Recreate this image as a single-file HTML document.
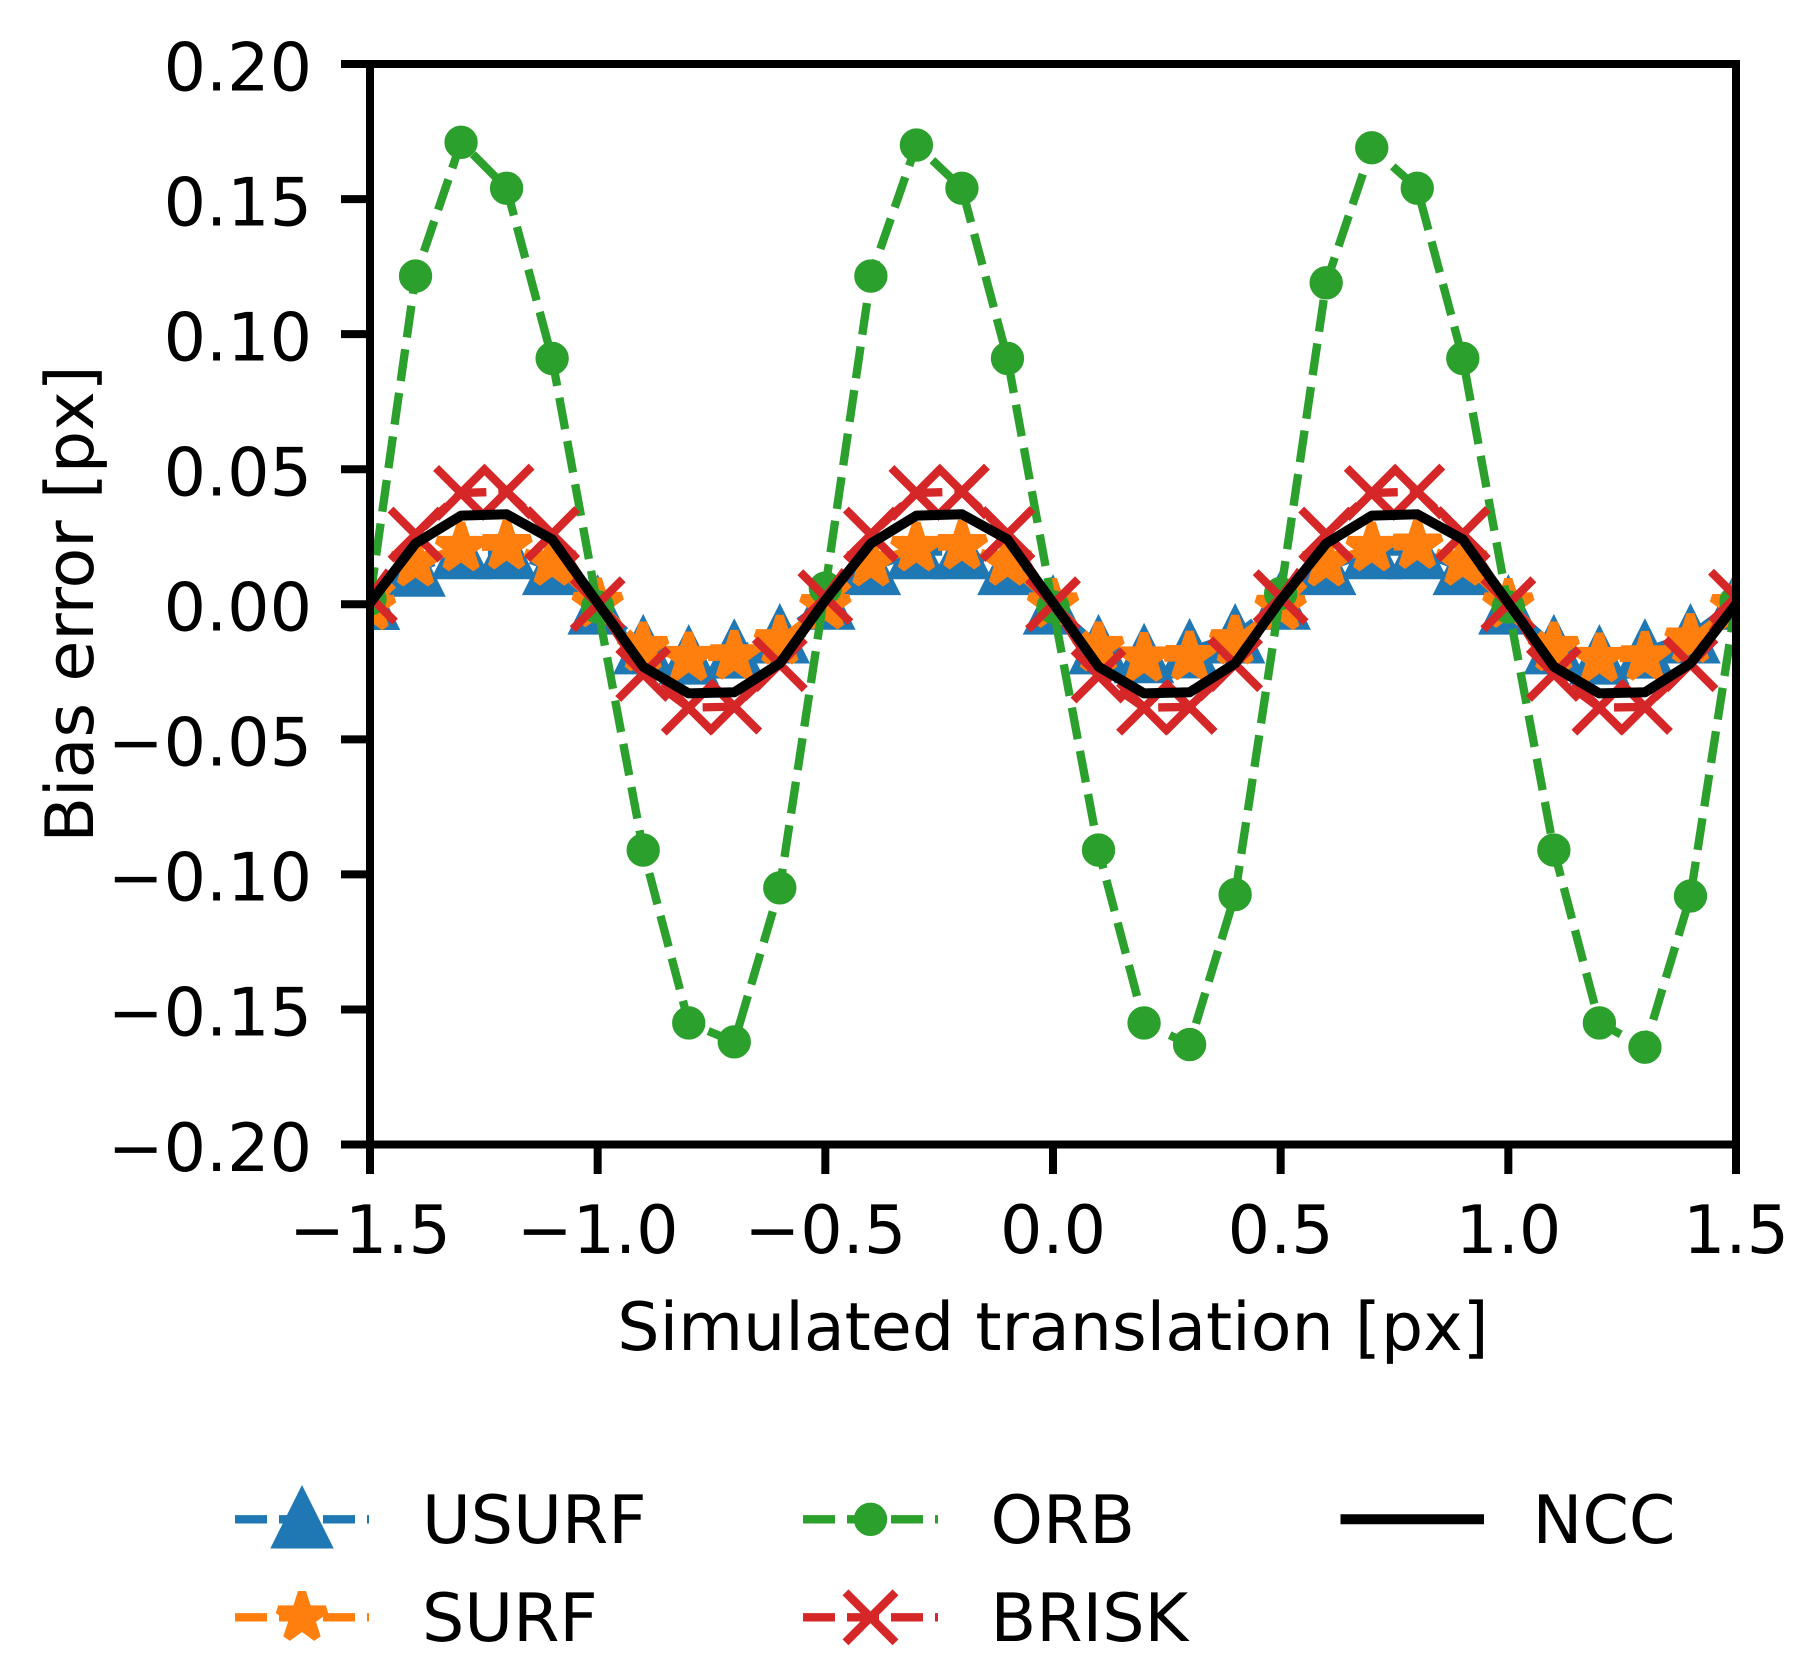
<!DOCTYPE html>
<html lang="en">
<head>
<meta charset="utf-8">
<title>Bias error vs simulated translation</title>
<style>
html,body{margin:0;padding:0;background:#fff;width:1812px;height:1668px;overflow:hidden}
svg{display:block}
text{font-family:"DejaVu Sans","Liberation Sans",sans-serif;font-size:66.67px;fill:#000;text-rendering:geometricPrecision}
</style>
</head>
<body>
<svg id="chart" xmlns="http://www.w3.org/2000/svg" width="1812" height="1668" viewBox="0 0 1812 1668">
  <defs><clipPath id="plot-clip"><rect x="370" y="64" width="1366" height="1080.5"/></clipPath></defs>
  <rect x="0" y="0" width="1812" height="1668" fill="#fff"/>
  <g id="series-layer" clip-path="url(#plot-clip)"></g>
  <g id="axis-layer"></g>
  <text x="1053" y="1350" text-anchor="middle">Simulated translation [px]</text>
  <text x="93" y="604" text-anchor="middle" transform="rotate(-90 93 604)">Bias error [px]</text>
  <g id="legend-layer"></g>
</svg>
<script>
const translations = [-1.5,-1.4,-1.3,-1.2,-1.1,-1.0,-0.9,-0.8,-0.7,-0.6,-0.5,-0.4,-0.3,-0.2,-0.1,0,0.1,0.2,0.3,0.4,0.5,0.6,0.7,0.8,0.9,1.0,1.1,1.2,1.3,1.4,1.5];
const usurfValues = [0.0007,0.013,0.0195,0.0195,0.0136,-0.001,-0.0157,-0.0195,-0.0173,-0.0117,0.0008,0.0136,0.0195,0.0195,0.0136,-0.001,-0.0157,-0.019,-0.0172,-0.0117,0.0008,0.0136,0.0195,0.0195,0.0136,-0.001,-0.0157,-0.0195,-0.0173,-0.0117,0.0008];
const surfValues = [-0.0009,0.0153,0.0209,0.0216,0.0156,0.0002,-0.0161,-0.0198,-0.0192,-0.0136,-0.0006,0.0153,0.0209,0.0216,0.0156,0.0,-0.0161,-0.02,-0.0195,-0.0136,-0.0009,0.0153,0.0209,0.0218,0.0156,0.0,-0.0161,-0.0202,-0.0196,-0.013,-0.0006];
const orbValues = [0.002,0.1215,0.171,0.154,0.091,-0.001,-0.091,-0.155,-0.162,-0.105,0.006,0.1215,0.17,0.154,0.091,-0.001,-0.091,-0.155,-0.163,-0.1075,0.004,0.119,0.169,0.154,0.091,-0.001,-0.091,-0.155,-0.164,-0.108,0.001];
const briskValues = [0.0028,0.0258,0.0412,0.0417,0.026,0.0,-0.0258,-0.0383,-0.0379,-0.0222,0.0026,0.0258,0.0412,0.0417,0.026,0.0,-0.0264,-0.0383,-0.038,-0.0222,0.0026,0.0258,0.0412,0.0417,0.026,0.0,-0.0258,-0.0383,-0.038,-0.0222,0.0028];
const nccValues = [0.0005,0.0225,0.0328,0.0333,0.024,0.0005,-0.0231,-0.033,-0.0326,-0.0219,0.0015,0.0225,0.0328,0.0333,0.024,0.0005,-0.0231,-0.033,-0.0326,-0.0219,0.0015,0.0225,0.0328,0.0333,0.024,0.0005,-0.0231,-0.033,-0.0326,-0.0219,0.0];
const xTickValues = [-1.5,-1.0,-0.5,0,0.5,1.0,1.5];
const xTickLabels = ["\u22121.5","\u22121.0","\u22120.5","0.0","0.5","1.0","1.5"];
const yTickValues = [0.2,0.15,0.1,0.05,0,-0.05,-0.1,-0.15,-0.2];
const yTickLabels = ["0.20","0.15","0.10","0.05","0.00","\u22120.05","\u22120.10","\u22120.15","\u22120.20"];

const NS = "http://www.w3.org/2000/svg";
const LW = 8.33;
const plot = {left:370, right:1736, top:64, bottom:1144.5};
function xScale(v){ return plot.left + (v + 1.5) / 3 * (plot.right - plot.left); }
function yScale(v){ return plot.bottom - (v + 0.2) / 0.4 * (plot.bottom - plot.top); }
function make(tag, attrs, parent){
  const el = document.createElementNS(NS, tag);
  for (const k in attrs) el.setAttribute(k, attrs[k]);
  parent.appendChild(el);
  return el;
}
function starPoints(cx, cy, R){
  const pts = [];
  for (let i = 0; i < 10; i++){
    const a = (-90 + 36 * i) * Math.PI / 180;
    const r = i % 2 === 0 ? R : R * 0.381966;
    pts.push((cx + r * Math.cos(a)).toFixed(2) + "," + (cy + r * Math.sin(a)).toFixed(2));
  }
  return pts.join(" ");
}
function drawMarker(kind, cx, cy, half, color, parent){
  if (kind === "triangle"){
    return make("polygon", {points:cx+","+(cy-half)+" "+(cx-half)+","+(cy+half)+" "+(cx+half)+","+(cy+half), fill:color, stroke:color, "stroke-width":LW, "stroke-linejoin":"miter", "stroke-miterlimit":10}, parent);
  }
  if (kind === "star"){
    return make("polygon", {points:starPoints(cx, cy, half), fill:color, stroke:color, "stroke-width":LW, "stroke-linejoin":"bevel"}, parent);
  }
  if (kind === "circle"){
    return make("circle", {cx:cx, cy:cy, r:half, fill:color, stroke:color, "stroke-width":LW}, parent);
  }
  return make("path", {d:"M"+(cx-half)+" "+(cy-half)+"L"+(cx+half)+" "+(cy+half)+"M"+(cx-half)+" "+(cy+half)+"L"+(cx+half)+" "+(cy-half), fill:"none", stroke:color, "stroke-width":LW, "stroke-linecap":"butt"}, parent);
}

const seriesLayer = document.getElementById("series-layer");
const axisLayer = document.getElementById("axis-layer");
const legendLayer = document.getElementById("legend-layer");

function drawSeries(slug, values, color, kind, half, dashed, width){
  const g = make("g", {}, seriesLayer);
  
  
  const pts = values.map((v, i) => xScale(translations[i]).toFixed(2) + "," + yScale(v).toFixed(2)).join(" ");
  const line = make("polyline", {points:pts, fill:"none", stroke:color, "stroke-width":width, "stroke-linejoin":"round"}, g);
  if (dashed) line.setAttribute("stroke-dasharray", "32 12");
  
  
  if (!kind) return;
  values.forEach((v, i) => {
    const m = drawMarker(kind, xScale(translations[i]), yScale(v), half, color, g);
    
    
  });
}
drawSeries("usurf", usurfValues, "#1f77b4", "triangle", 23.5, true, LW);
drawSeries("surf", surfValues, "#ff7f0e", "star", 25, true, LW);
drawSeries("orb", orbValues, "#2ca02c", "circle", 12.5, true, LW);
drawSeries("brisk", briskValues, "#d62728", "x", 25, true, LW);
drawSeries("ncc", nccValues, "#000000", null, 0, false, 10);

const frame = make("rect", {x:plot.left, y:plot.top, width:plot.right-plot.left, height:plot.bottom-plot.top, fill:"none", stroke:"#000", "stroke-width":8, "stroke-linejoin":"miter"}, axisLayer);



xTickValues.forEach((v, i) => {
  const x = xScale(v);
  const t = make("line", {x1:x, x2:x, y1:plot.bottom, y2:1174, stroke:"#000", "stroke-width":8}, axisLayer);
  
  
  const l = make("text", {x:x, y:1253, "text-anchor":"middle"}, axisLayer);
  l.textContent = xTickLabels[i];
  
  
});
yTickValues.forEach((v, i) => {
  const y = yScale(v);
  const t = make("line", {x1:341, x2:plot.left, y1:y, y2:y, stroke:"#000", "stroke-width":8}, axisLayer);
  
  
  const l = make("text", {x:312, y:y+26.3, "text-anchor":"end"}, axisLayer);
  l.textContent = yTickLabels[i];
  
  
});

function legendEntry(slug, label, color, kind, half, x0, x1, y, textX, textY){
  const g = make("g", {}, legendLayer);
  
  
  const line = make("line", {x1:x0, x2:x1, y1:y, y2:y, stroke:color, "stroke-width":kind ? LW : 10}, g);
  if (kind) line.setAttribute("stroke-dasharray", "32 12");
  if (kind) drawMarker(kind, (x0 + x1) / 2, y, half, color, g);
  const t = make("text", {x:textX, y:textY}, g);
  t.textContent = label;
}
legendEntry("usurf", "USURF", "#1f77b4", "triangle", 25, 235, 369, 1519.3, 422, 1543);
legendEntry("surf", "SURF", "#ff7f0e", "star", 25, 235, 369, 1617.3, 422, 1641);
legendEntry("orb", "ORB", "#2ca02c", "circle", 12.5, 803, 938, 1519.3, 990.5, 1543);
legendEntry("brisk", "BRISK", "#d62728", "x", 25, 803, 938, 1617.3, 990.5, 1641);
legendEntry("ncc", "NCC", "#000000", null, 0, 1340.5, 1484, 1519.3, 1532.5, 1543);
</script>
</body>
</html>
